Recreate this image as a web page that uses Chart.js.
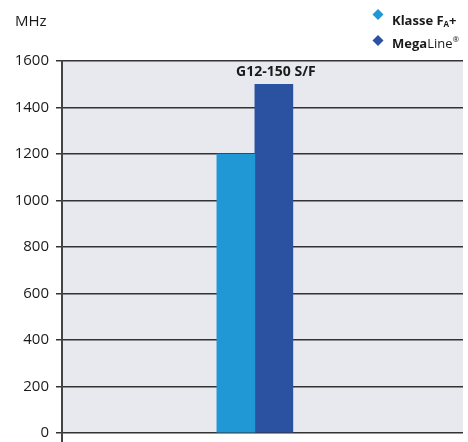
<!DOCTYPE html>
<html>
<head>
<meta charset="utf-8">
<script src="https://cdn.jsdelivr.net/npm/chart.js@4/dist/chart.umd.min.js"></script>
<style>
  html, body { margin: 0; padding: 0; background: #fff; }
  #wrap { width: 468px; height: 442px; }
</style>
</head>
<body>
<div id="wrap"><canvas id="mhzChart" width="468" height="442"></canvas></div>
<script>
// data
let categories = ['G12-150 S/F'];
let klasseValues = [1200];
let megaLineValues = [1500];
let yTicks = [0, 200, 400, 600, 800, 1000, 1200, 1400, 1600];
let unitLabel = 'MHz';

// legend text pieces (bold / sub / normal / sup)
let klasseLegend = [['Klasse F', 'bold'], ['A', 'sub'], ['+', 'bold']];
let megaLegend = [['Mega', 'bold'], ['Line', 'normal'], ['®', 'sup']];

const lightBlue = 'rgb(31, 152, 213)';
const darkBlue = 'rgb(42, 82, 160)';
const fontFamily = "'Open Sans', 'Noto Sans', sans-serif";

function toPoints(values) {
    return values.map(function (v, i) { return { x: i, y: v }; });
}

// grey plot background + small axis stub below zero
const plotBackground = {
    id: 'plotBackground',
    beforeDraw(chart) {
        const a = chart.chartArea;
        const ctx = chart.ctx;
        ctx.save();
        ctx.fillStyle = '#e8e9ee';
        ctx.fillRect(a.left, a.top, a.right - a.left, a.bottom - a.top);
        ctx.restore();
    },
    afterDraw(chart) {
        const a = chart.chartArea;
        const ctx = chart.ctx;
        ctx.save();
        ctx.strokeStyle = '#444';
        ctx.lineWidth = 2;
        ctx.beginPath();
        ctx.moveTo(a.left, a.bottom);
        ctx.lineTo(a.left, chart.height);
        ctx.stroke();
        ctx.restore();
    }
};

function drawRich(ctx, parts, x, y) {
    parts.forEach(function (p) {
        let size = 13, weight = 'bold', dy = 0;
        if (p[1] === 'normal') weight = 'normal';
        if (p[1] === 'sub') { size = 8; dy = 2; }
        if (p[1] === 'sup') { size = 8; weight = 'normal'; dy = -6; }
        ctx.font = weight + ' ' + size + 'px ' + fontFamily;
        ctx.fillText(p[0], x, y + dy);
        x += ctx.measureText(p[0]).width;
    });
}

// unit label, legend and the category label above the bars
const extraText = {
    id: 'extraText',
    afterDatasetsDraw(chart) {
        const ctx = chart.ctx;
        ctx.save();
        ctx.fillStyle = '#1a1a1a';
        ctx.textBaseline = 'alphabetic';
        ctx.textAlign = 'left';
        ctx.font = '15px ' + fontFamily;
        ctx.fillText(unitLabel, 15, 26);

        const rows = [klasseLegend, megaLegend];
        chart.data.datasets.forEach(function (ds, i) {
            const cy = 14.5 + i * 26;
            ctx.fillStyle = ds.backgroundColor;
            ctx.beginPath();
            ctx.moveTo(378, cy - 5.5);
            ctx.lineTo(383.5, cy);
            ctx.lineTo(378, cy + 5.5);
            ctx.lineTo(372.5, cy);
            ctx.closePath();
            ctx.fill();
            ctx.fillStyle = '#1a1a1a';
            drawRich(ctx, rows[i], 392, 25 + i * 23);
        });

        const meta = chart.getDatasetMeta(1);
        ctx.font = 'bold 14px ' + fontFamily;
        ctx.textAlign = 'center';
        meta.data.forEach(function (bar, i) {
            ctx.fillText(categories[i], bar.x + 2, bar.y - 8);
        });
        ctx.restore();
    }
};

let ctx = document.getElementById('mhzChart').getContext('2d');
let mhzChart = new Chart(ctx, {
    type: 'bar',
    data: {
        labels: categories,
        datasets: [{
            label: 'Klasse FA+',
            data: toPoints(klasseValues),
            backgroundColor: lightBlue,
            barThickness: 38
        }, {
            label: 'MegaLine®',
            data: toPoints(megaLineValues),
            backgroundColor: darkBlue,
            barThickness: 38
        }]
    },
    plugins: [plotBackground, extraText],
    options: {
        responsive: false,
        animation: false,
        layout: {
            padding: { top: 61, right: 5, bottom: 9, left: 0 }
        },
        scales: {
            x: {
                type: 'linear',
                display: false,
                min: -1,
                max: 1.1
            },
            y: {
                min: 0,
                max: 1600,
                afterFit: function (scale) {
                    scale.width = 62;
                    scale.paddingTop = 0;
                    scale.paddingBottom = 0;
                },
                afterBuildTicks: function (scale) {
                    scale.ticks = yTicks.map(function (v) { return { value: v }; });
                },
                ticks: {
                    color: '#1a1a1a',
                    padding: 7,
                    font: { family: fontFamily, size: 15 },
                    callback: function (value) { return String(value); }
                },
                grid: {
                    color: '#333',
                    lineWidth: 1.5,
                    tickLength: 6,
                    tickColor: '#333'
                },
                border: { color: '#444', width: 2 }
            }
        },
        plugins: {
            legend: { display: false },
            tooltip: { enabled: false }
        }
    }
});
</script>
</body>
</html>
